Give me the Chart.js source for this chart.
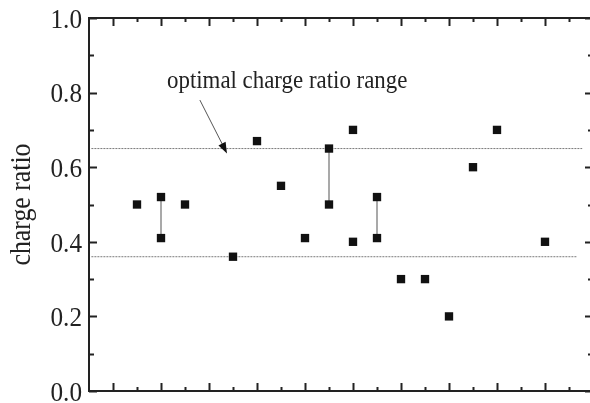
<!DOCTYPE html>
<html>
<head>
<meta charset="utf-8">
<script src="https://cdn.jsdelivr.net/npm/chart.js@4.4.0/dist/chart.umd.min.js"></script>
<style>
  html, body { margin: 0; padding: 0; overflow: hidden; background: #fff; }
  #chart { position: absolute; left: 0; top: 0; }
</style>
</head>
<body>
<canvas id="chart" width="590" height="403"></canvas>
<script>
// sample positions along x (no labels in the original) and measured charge ratio
const sampleX = [2, 3, 3, 4, 6, 7, 8, 9, 10, 10, 11, 11, 12, 12, 13, 14, 15, 16, 17, 19];
const chargeRatio = [0.50, 0.52, 0.41, 0.50, 0.36, 0.67, 0.55, 0.41, 0.65, 0.50, 0.70, 0.40, 0.52, 0.41, 0.30, 0.30, 0.20, 0.60, 0.70, 0.40];
// samples whose two values are joined by a vertical bar
const linkedX = [3, 10, 12];
// optimal range limits (dotted lines)
const rangeLow = 0.36;
const rangeHigh = 0.65;
const rangeLowEnd = 20.35;
const rangeHighEnd = 20.55;
const yTicks = [0, 0.2, 0.4, 0.6, 0.8, 1.0];
const yTickLabels = ['0.0', '0.2', '0.4', '0.6', '0.8', '1.0'];
const xMajor = [1, 3, 5, 7, 9, 11, 13, 15, 17, 19];
const xMinor = [2, 4, 6, 8, 10, 12, 14, 16, 18, 20];
const yMinor = [0.1, 0.3, 0.5, 0.7, 0.9];
// the frame closes at x = 21, just past the picture's right edge
const xFrameEnd = 21;
const xVisibleEnd = 20.875;
const noteText = 'optimal charge ratio range';
const notePos = { x: 3.25, y: 0.812 };
const arrowFrom = { x: 4.62, y: 0.78 };
const arrowTo = { x: 5.75, y: 0.637 };

const points = sampleX.map((x, i) => ({ x: x, y: chargeRatio[i] }));

const linkSets = linkedX.map(function (lx) {
  let vals = chargeRatio.filter((v, i) => sampleX[i] === lx);
  return {
    type: 'line',
    data: [{ x: lx, y: Math.min(...vals) }, { x: lx, y: Math.max(...vals) }],
    borderColor: '#8c8c8c',
    borderWidth: 1.5,
    pointRadius: 0,
    order: 2
  };
});

const rangeSets = [[rangeLow, rangeLowEnd], [rangeHigh, rangeHighEnd]].map(function (r) {
  return {
    type: 'line',
    data: [{ x: 0.1, y: r[0] }, { x: r[1], y: r[0] }],
    borderColor: '#7a7a7a',
    borderWidth: 1,
    borderDash: [2, 1],
    pointRadius: 0,
    order: 3
  };
});

// condensed serif text, like the original figure
function squeezeText(ctx, text, x, y, sx) {
  ctx.save();
  ctx.translate(x, y);
  ctx.scale(sx, 1);
  ctx.fillText(text, 0, 0);
  ctx.restore();
}

const frame = {
  id: 'frame',
  afterDraw(chart) {
    const ctx = chart.ctx;
    const xs = chart.scales.x, ys = chart.scales.y;
    const a = chart.chartArea;
    const right = xs.getPixelForValue(xFrameEnd);
    ctx.save();
    ctx.strokeStyle = '#222';
    ctx.lineWidth = 2;
    ctx.strokeRect(a.left, a.top, right - a.left, a.bottom - a.top);

    function tickX(v, len) {
      let px = Math.round(xs.getPixelForValue(v)) + 0.5;
      ctx.beginPath();
      ctx.moveTo(px, a.bottom); ctx.lineTo(px, a.bottom - len);
      ctx.moveTo(px, a.top); ctx.lineTo(px, a.top + len);
      ctx.stroke();
    }
    function tickY(v, len) {
      let py = Math.round(ys.getPixelForValue(v)) + 0.5;
      ctx.beginPath();
      ctx.moveTo(a.left, py); ctx.lineTo(a.left + len, py);
      ctx.moveTo(right, py); ctx.lineTo(right - len, py);
      ctx.stroke();
    }
    xMajor.forEach(v => tickX(v, 8));
    xMinor.forEach(v => tickX(v, 4));
    yTicks.forEach(v => tickY(v, 8));
    yMinor.forEach(v => tickY(v, 5));

    // tick labels
    ctx.fillStyle = '#222';
    ctx.font = '28px "Liberation Serif"';
    ctx.textAlign = 'right';
    ctx.textBaseline = 'alphabetic';
    yTicks.forEach(function (v, i) {
      squeezeText(ctx, yTickLabels[i], a.left - 7, ys.getPixelForValue(v) + 9.8, 0.9);
    });

    // axis title
    ctx.save();
    ctx.translate(30, 204.5);
    ctx.rotate(-Math.PI / 2);
    ctx.textAlign = 'center';
    ctx.font = '30px "Liberation Serif"';
    squeezeText(ctx, 'charge ratio', 0, 0, 0.86);
    ctx.restore();

    // annotation
    ctx.font = '26px "Liberation Serif"';
    ctx.textAlign = 'left';
    squeezeText(ctx, noteText, xs.getPixelForValue(notePos.x), ys.getPixelForValue(notePos.y), 0.88);

    let x0 = xs.getPixelForValue(arrowFrom.x), y0 = ys.getPixelForValue(arrowFrom.y);
    let x1 = xs.getPixelForValue(arrowTo.x), y1 = ys.getPixelForValue(arrowTo.y);
    let ang = Math.atan2(y1 - y0, x1 - x0);
    ctx.strokeStyle = '#555';
    ctx.lineWidth = 1;
    ctx.beginPath();
    ctx.moveTo(x0, y0);
    ctx.lineTo(x1 - 8 * Math.cos(ang), y1 - 8 * Math.sin(ang));
    ctx.stroke();
    ctx.fillStyle = '#111';
    ctx.beginPath();
    ctx.moveTo(x1, y1);
    ctx.lineTo(x1 - 11 * Math.cos(ang) + 4 * Math.sin(ang), y1 - 11 * Math.sin(ang) - 4 * Math.cos(ang));
    ctx.lineTo(x1 - 11 * Math.cos(ang) - 4 * Math.sin(ang), y1 - 11 * Math.sin(ang) + 4 * Math.cos(ang));
    ctx.closePath();
    ctx.fill();
    ctx.restore();
  }
};

new Chart(document.getElementById('chart'), {
  type: 'scatter',
  data: {
    datasets: [{
      data: points,
      pointStyle: 'rect',
      pointRadius: 5.9,
      pointHoverRadius: 5.9,
      backgroundColor: '#111',
      borderColor: '#111',
      borderWidth: 0,
      order: 1
    }].concat(linkSets, rangeSets)
  },
  options: {
    responsive: false,
    animation: false,
    events: [],
    layout: { autoPadding: false, padding: { left: 89, right: 0, top: 18, bottom: 12 } },
    plugins: { legend: { display: false }, tooltip: { enabled: false } },
    scales: {
      x: { type: 'linear', min: 0, max: xVisibleEnd, display: false },
      y: { min: 0, max: 1, display: false }
    }
  },
  plugins: [frame]
});
</script>
</body>
</html>
